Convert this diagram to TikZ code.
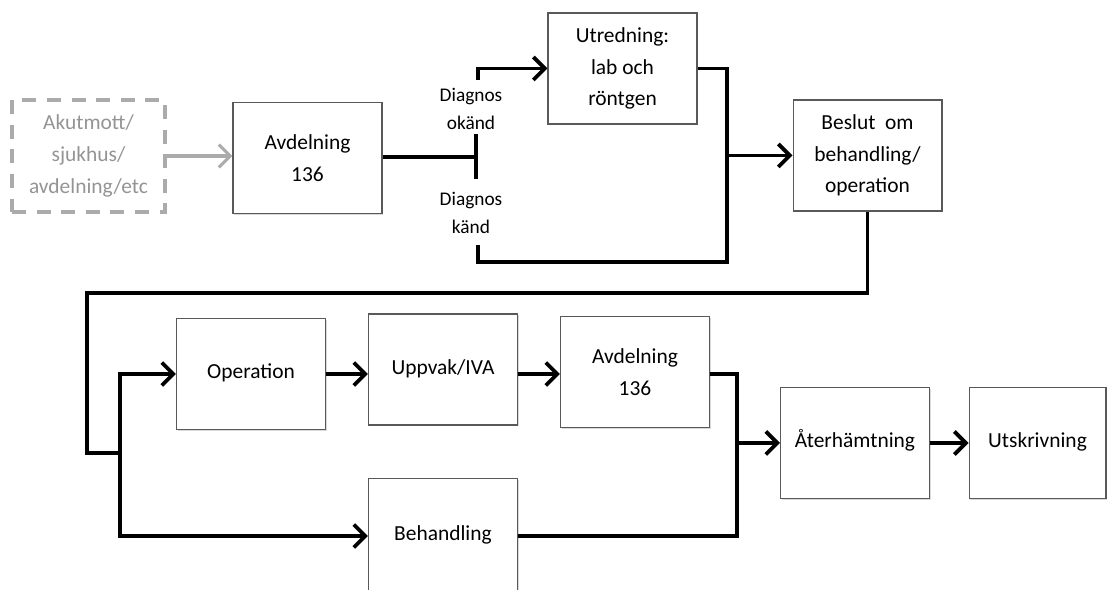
\documentclass[tikz,border=0pt]{standalone}
\usepackage{fontspec}
\setmainfont{Carlito}
\usetikzlibrary{arrows.meta, shadows, positioning}

\begin{document}
\begin{tikzpicture}[x=0.02cm, y=-0.02cm,
    every node/.style={font=\fontsize{12.2}{18}\selectfont, align=center},
    box/.style={draw=black!65, line width=0.6pt, fill=white,
      minimum width=2.98cm, minimum height=2.22cm, inner sep=2pt,
      drop shadow={shadow xshift=0.8pt, shadow yshift=-0.8pt, opacity=0.3}},
    oneline/.style={text height=1.6ex, text depth=0.5ex},
    source/.style={draw=black!33, line width=2.2pt, dash pattern=on 8pt off 6pt,
      minimum width=3.06cm, minimum height=2.24cm, text=black!42},
    flow/.style={line width=2.2pt},
    arrow/.style={flow, -{Straight Barb[length=6.5pt, width=13pt, line width=2.2pt]}},
    diag/.style={font=\fontsize{11}{16}\selectfont}]

  \useasboundingbox (0,0) rectangle (1108,590);

  \node[source] (akut) at (88.5,156) {Akutmott/\\sjukhus/\\avdelning/etc};
  \node[box] (avd1) at (307.5,158) {Avdelning\\136};
  \node[box] (utr) at (622.5,68.5) {Utredning:\\lab och\\röntgen};
  \node[box] (beslut) at (867.5,155.5) {Beslut\ \ om\\behandling/\\operation};

  \node[box, oneline] (op) at (251,374) {Operation};
  \node[box, oneline] (upp) at (443,369.5) {Uppvak/IVA};
  \node[box] (avd2) at (635,372) {Avdelning\\136};
  \node[box, oneline, minimum height=2.3cm] (beh) at (443,536) {Behandling};
  \node[box, oneline] (ater) at (855,443) {Återhämtning};
  \node[box, oneline, minimum width=2.74cm] (utsk) at (1037.5,443) {Utskrivning};

  \node[diag] (okand) at (471,109) {Diagnos\\okänd};
  \node[diag] (kand) at (471,213) {Diagnos\\känd};

  \coordinate (tbar) at (478,157);
  \coordinate (okend) at (478,80);
  \coordinate (kend) at (478,245);
  \coordinate (jbot) at (727,262);
  \coordinate (loopL) at (87,293);
  \coordinate (jsplit) at (120,453);
  \coordinate (jmerge) at (737,443);

  \draw[black!33, line width=1.8pt, -{Straight Barb[length=6.5pt, width=13pt, line width=1.8pt]}]
    (akut.east) -- (akut.east -| avd1.west);

  \draw[flow, -{Bar[width=0.9cm, line width=2.2pt]}] (avd1.east |- tbar) -- (tbar);
  \draw[arrow] (okend) |- (utr.west);
  \draw[flow] (kend) |- (jbot) |- (utr.east);
  \draw[arrow] (jbot |- beslut.west) -- (beslut.west);

  \draw[flow] (beslut.south) |- (loopL) |- (jsplit);
  \draw[arrow] (jsplit) |- (op.west);
  \draw[arrow] (jsplit) |- (beh.west);
  \draw[arrow] (op.east) -- (op.east -| upp.west);
  \draw[arrow] (upp.east |- op.east) -- (avd2.west |- op.east);
  \draw[flow] (avd2.east |- op.east) -| (jmerge) |- (beh.east);
  \draw[arrow] (jmerge) -- (ater.west);
  \draw[arrow] (ater) -- (utsk);

\end{tikzpicture}
\end{document}
